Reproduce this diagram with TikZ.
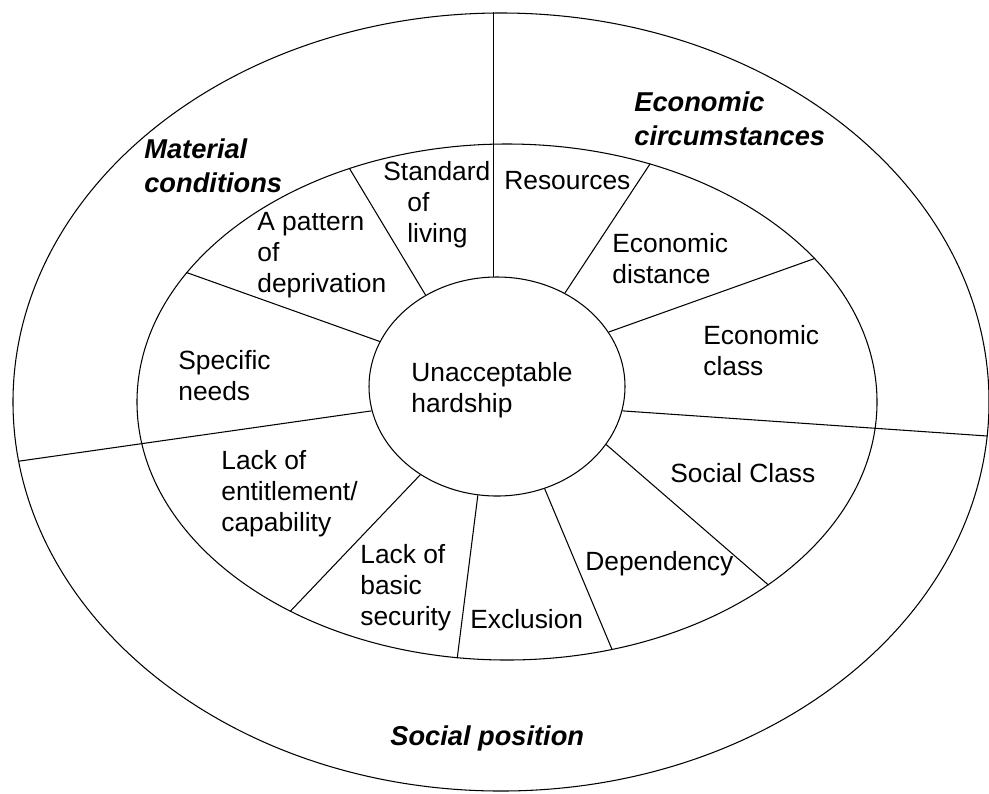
\documentclass[tikz,border=0pt]{standalone}
\usepackage{fontspec}
\setmainfont{Liberation Sans}
\usetikzlibrary{shapes.geometric}

\begin{document}
\begin{tikzpicture}[
      x=0.2mm,
      y=-0.2mm,
      wheel/.style={
          ellipse,
          draw,
          line width=0.6pt,
          inner sep=0pt
        },
      spoke/.style={
          line width=0.6pt
        },
      txt/.style={
          anchor=north west,
          align=left,
          inner sep=0pt,
          font=\fontsize{15}{17.6}\selectfont,
          execute at begin node=\strut
        },
      heading/.style={
          txt,
          font=\fontsize{15.5}{18.8}\selectfont\bfseries\itshape
        }
    ]
    \useasboundingbox (0,0) rectangle (989,793);

    % Rings
    \node[wheel, minimum width=195.2mm, minimum height=155.6mm] (rim) at (501,402) {};
    \node[wheel, minimum width=148mm, minimum height=103.2mm] (ring) at (507,402) {};
    \node[wheel, minimum width=51.2mm, minimum height=43.8mm] (hub) at (497,386.5) {};

    % Spokes to the outer ring
    \draw[spoke] (hub.92.6) -- (hub.92.6 |- rim.north);
    \draw[spoke] (hub.191.3) -- (rim.187.7);
    \draw[spoke] (hub.349.6) -- (rim.356.4);

    % Spokes to the inner ring
    \draw[spoke] (hub.128.2) -- (ring.124.9);
    \draw[spoke] (hub.159.7) -- (ring.158.1);
    \draw[spoke] (hub.229.1) -- (ring.224.3);
    \draw[spoke] (hub.260.2) -- (ring.259);
    \draw[spoke] (hub.295) -- (ring.293);
    \draw[spoke] (hub.332.4) -- (ring.325.6);
    \draw[spoke] (hub.26.1) -- (ring.25.8);
    \draw[spoke] (hub.54) -- (ring.59.8);

    % Outer labels
    \node[heading] (economic) at (634,91.9) {Economic\\circumstances};
    \node[heading] (material) at (144,138.9) {Material\\conditions};
    \node[heading] (social) at (390,721.9) {Social position};

    % Centre
    \node[txt] (hardship) at (411,362.3) {Unacceptable\\hardship};

    % Inner labels
    \node[txt] (standard) at (383,161.3) {Standard\\\hspace*{4.8mm}of\\\hspace*{4.8mm}living};
    \node[txt] (resources) at (504,167.3) {Resources};
    \node[txt] (pattern) at (257,212.3) {A pattern\\of\\deprivation};
    \node[txt] (distance) at (612,233.3) {Economic\\distance};
    \node[txt] (ecclass) at (703,325.3) {Economic\\class};
    \node[txt] (needs) at (178,350.3) {Specific\\needs};
    \node[txt] (entitlement) at (221,450.3) {Lack of\\entitlement/\\capability};
    \node[txt] (security) at (360,544.3) {Lack of\\basic\\security};
    \node[txt] (exclusion) at (470,606.3) {Exclusion};
    \node[txt] (dependency) at (585,548.3) {Dependency};
    \node[txt] (socclass) at (670,460.3) {Social Class};
  \end{tikzpicture}
\end{document}
